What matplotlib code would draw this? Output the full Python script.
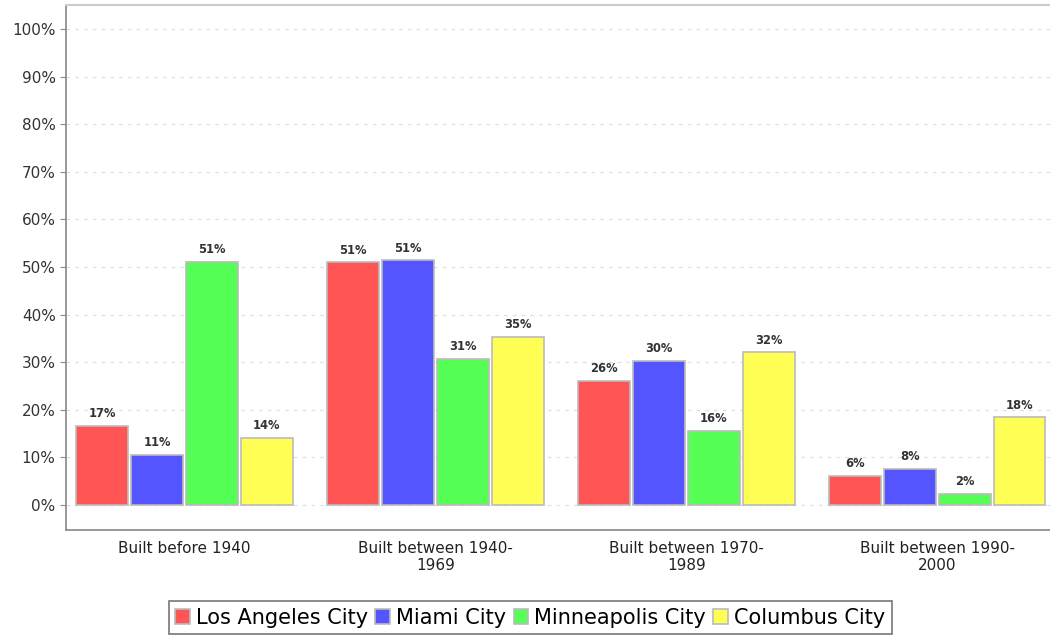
import numpy as np
import matplotlib.pyplot as plt

# datos (porcentaje de viviendas por periodo de construccion)
categorias = ['Built before 1940', 'Built between 1940-\n1969',
              'Built between 1970-\n1989', 'Built between 1990-\n2000']
ciudades = ['Los Angeles City', 'Miami City', 'Minneapolis City', 'Columbus City']
los_angeles = [16.6, 51.0, 26.1, 6.1]
miami = [10.6, 51.4, 30.3, 7.6]
minneapolis = [51.1, 30.7, 15.6, 2.3]
columbus = [14.1, 35.3, 32.1, 18.4]
colores = ['#FF5555', '#5555FF', '#55FF55', '#FFFF55']
yticks = np.arange(0, 101, 10)

plt.rcParams['font.family'] = 'DejaVu Sans'

fig = plt.figure(figsize=(10.5, 6.37), dpi=100)
ax = fig.add_axes([0.0629, 0.168, 0.9371, 0.824])

x = np.arange(len(categorias))
paso = 0.219
ancho = 0.207
series = [los_angeles, miami, minneapolis, columbus]
for i in range(len(series)):
    pos = x + (i - 1.5) * paso
    barras = ax.bar(pos, series[i], width=ancho, color=colores[i],
                    edgecolor='#BBBBBB', linewidth=1.2, label=ciudades[i], zorder=3)
    ax.bar_label(barras, labels=['%.0f%%' % v for v in series[i]], padding=4,
                 fontsize=8.3, fontweight='bold', color='#333333')

ax.set_xlim(-0.472, 3.45)
ax.set_ylim(-5.25, 105)
ax.set_yticks(yticks)
ax.set_yticklabels(['%d%%' % v for v in yticks])
ax.set_xticks(x)
ax.set_xticklabels(categorias)
ax.tick_params(axis='y', length=4, color='#888888', labelsize=11, labelcolor='#333333')
ax.tick_params(axis='x', length=0, pad=8, labelsize=11, labelcolor='#222222')
ax.grid(axis='y', linestyle=(0, (3, 4)), color='#E0E0E0', linewidth=0.9, zorder=0)

ax.spines['left'].set_color('#888888')
ax.spines['bottom'].set_color('#888888')
ax.spines['left'].set_linewidth(1.2)
ax.spines['bottom'].set_linewidth(1.2)
ax.spines['top'].set_color('#CCCCCC')
ax.spines['top'].set_linewidth(1.5)
ax.spines['right'].set_visible(False)

leg = fig.legend(loc='upper center', bbox_to_anchor=(0.505, 0.056), ncol=4,
                 frameon=True, fancybox=False, fontsize=15, handlelength=0.7,
                 handleheight=0.7, handletextpad=0.3, columnspacing=0.35,
                 borderpad=0.3, borderaxespad=0)
leg.get_frame().set_edgecolor('#555555')
leg.get_frame().set_linewidth(1.2)

plt.savefig('out.png', dpi=100)
